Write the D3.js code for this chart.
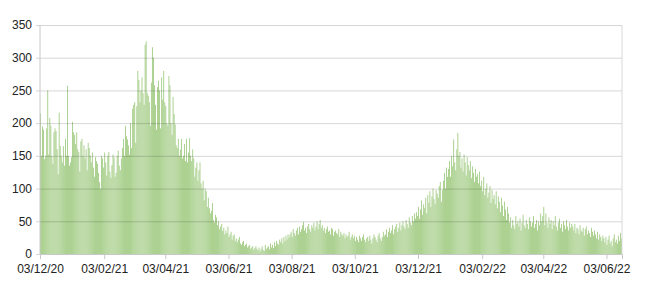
<!DOCTYPE html>
<html>
<head>
<meta charset="utf-8">
<script src="https://cdn.jsdelivr.net/npm/d3@7"></script>
<style>
  html, body { margin: 0; padding: 0; background: #fff; }
  svg { display: block; font-family: "Liberation Sans", Arial, sans-serif; }
</style>
</head>
<body>
<div id="chart"></div>
<script>
// daily counts, one array per month (first day 03/12/20)
const dec20 = [215,150,195,190,145,150,192,250,152,208,196,150,138,186,192,188,160,122,216,165,150,140,165,135,176,150,257,150,135];
const jan21 = [140,148,202,186,182,168,186,160,156,126,172,176,150,166,146,160,128,170,162,150,140,155,132,118,148,142,138,124,110,100,150];
const feb21 = [146,132,155,140,120,150,156,126,116,136,152,148,118,124,150,158,135,128,146,162,176,150,196,180,175,166,152,200];
const mar21 = [162,222,228,232,170,226,280,266,232,250,270,246,228,320,325,246,242,232,196,262,316,300,258,228,190,255,265,250,192,270,236];
const apr21 = [280,232,226,200,196,272,258,200,182,240,214,198,166,162,176,150,160,176,146,150,168,142,176,140,155,177,150,142,160,146];
const may21 = [118,132,140,112,128,140,108,100,112,82,100,96,72,86,70,62,66,78,52,48,60,56,44,50,38,42,46,35,40,30,36];
const jun21 = [32,42,26,30,34,22,28,30,20,24,18,22,26,16,14,18,20,12,14,16,10,12,14,8,10,12,6,9,12,8];
const jul21 = [6,10,4,8,12,6,5,14,8,10,12,7,16,10,14,9,18,12,20,16,14,22,18,24,16,26,20,28,22,30,25];
const aug21 = [30,34,26,38,32,28,36,40,30,42,34,38,44,49,36,40,32,42,46,38,34,44,40,48,36,42,50,38,46,52,40];
const sep21 = [44,36,40,32,38,42,34,36,30,40,38,28,34,36,32,30,38,26,34,30,28,32,24,30,26,28,34,22,26,30];
const oct21 = [24,28,20,26,22,18,28,24,20,26,30,22,18,24,26,20,28,22,16,24,30,26,22,18,28,32,24,20,26,34,28];
const nov21 = [30,38,26,34,40,32,36,44,30,38,42,46,34,40,48,36,44,50,42,38,52,46,40,56,48,44,58,50,62,54];
const dec21 = [64,58,72,54,68,82,60,76,70,86,62,90,78,96,72,88,100,84,76,98,92,86,104,110,80,98,112,124,100,132,118];
const jan22 = [130,142,118,150,134,175,140,128,160,185,150,156,132,146,126,152,140,120,148,136,128,142,116,134,124,110,130,118,122,108,126];
const feb22 = [104,112,96,118,90,100,108,86,94,104,78,98,84,90,76,96,70,88,80,64,86,74,58,80,68,52,72,62];
const mar22 = [48,56,40,52,44,38,58,46,50,42,54,36,48,60,44,40,52,46,38,56,50,42,48,58,40,46,52,36,50,44,62];
const apr22 = [50,58,72,44,62,48,40,56,46,52,38,50,44,58,42,36,48,54,40,46,34,50,44,38,52,42,36,48,40,46];
const may22 = [42,36,46,32,40,38,30,44,36,34,40,28,38,42,30,36,32,26,40,34,28,36,30,24,34,22,30,26,20,28,24];
const jun22 = [18,26,14,22,28,16,20,12,24,30,18,22,16,28,20,32,24];

const yTicks = [0, 50, 100, 150, 200, 250, 300, 350];
const xTickLabels = ["03/12/20","03/02/21","03/04/21","03/06/21","03/08/21","03/10/21","03/12/21","03/02/22","03/04/22","03/06/22"];

const counts = [].concat(dec20, jan21, feb21, mar21, apr21, may21, jun21, jul21, aug21, sep21,
  oct21, nov21, dec21, jan22, feb22, mar22, apr22, may22, jun22);

const parse = d3.timeParse("%d/%m/%y");
const fmt = d3.timeFormat("%d/%m/%y");
const start = parse("03/12/20");
const data = counts.map((v, i) => ({ date: d3.timeDay.offset(start, i), value: v }));
const end = d3.timeDay.offset(start, counts.length);

const W = 650, H = 290;
const M = { top: 25, right: 28, bottom: 36, left: 40 };

const x = d3.scaleTime().domain([start, end]).range([M.left, W - M.right]);
const y = d3.scaleLinear().domain([0, 350]).range([H - M.bottom, M.top]);

const svg = d3.select("#chart").append("svg").attr("width", W).attr("height", H);

// ── Bars ──────────────────────────────────────────────────────────────────
const step = x(d3.timeDay.offset(start, 1)) - x(start);
svg.append("g")
  .selectAll("rect")
  .data(data)
  .join("rect")
  .attr("x", (d) => x(d.date) + step * 0.12)
  .attr("width", step * 0.76)
  .attr("y", (d) => y(d.value))
  .attr("height", (d) => y(0) - y(d.value))
  .attr("fill", "#96c574");

// ── Grid (drawn over the bars) ───────────────────────────────────────────
svg.append("g")
  .attr("transform", `translate(${M.left},0)`)
  .call(d3.axisLeft(y).tickValues(yTicks).tickSize(-(W - M.left - M.right)).tickPadding(8).tickFormat(d3.format("d")))
  .call((g) => g.select(".domain").remove())
  .call((g) => g.selectAll(".tick line").attr("stroke", "#000").attr("stroke-opacity", 0.16).attr("x1", -4))
  .call((g) => g.selectAll(".tick text").attr("fill", "#222").attr("font-size", 12));

// left and right frame lines
svg.append("line")
  .attr("x1", M.left).attr("x2", M.left).attr("y1", M.top).attr("y2", y(0))
  .attr("stroke", "#c8c8c8");
svg.append("line")
  .attr("x1", W - M.right).attr("x2", W - M.right).attr("y1", M.top).attr("y2", y(0))
  .attr("stroke", "#d9d9d9");

// ── X axis ────────────────────────────────────────────────────────────────
const xTickDates = xTickLabels.map(parse);
svg.append("g")
  .attr("transform", `translate(0,${y(0)})`)
  .call(d3.axisBottom(x).tickValues(xTickDates).tickSize(5).tickPadding(5).tickFormat(fmt))
  .call((g) => g.select(".domain").attr("stroke", "#c8c8c8"))
  .call((g) => g.selectAll(".tick line").attr("stroke", "#c8c8c8"))
  .call((g) => g.selectAll(".tick text").attr("fill", "#222").attr("font-size", 12));
</script>
</body>
</html>
